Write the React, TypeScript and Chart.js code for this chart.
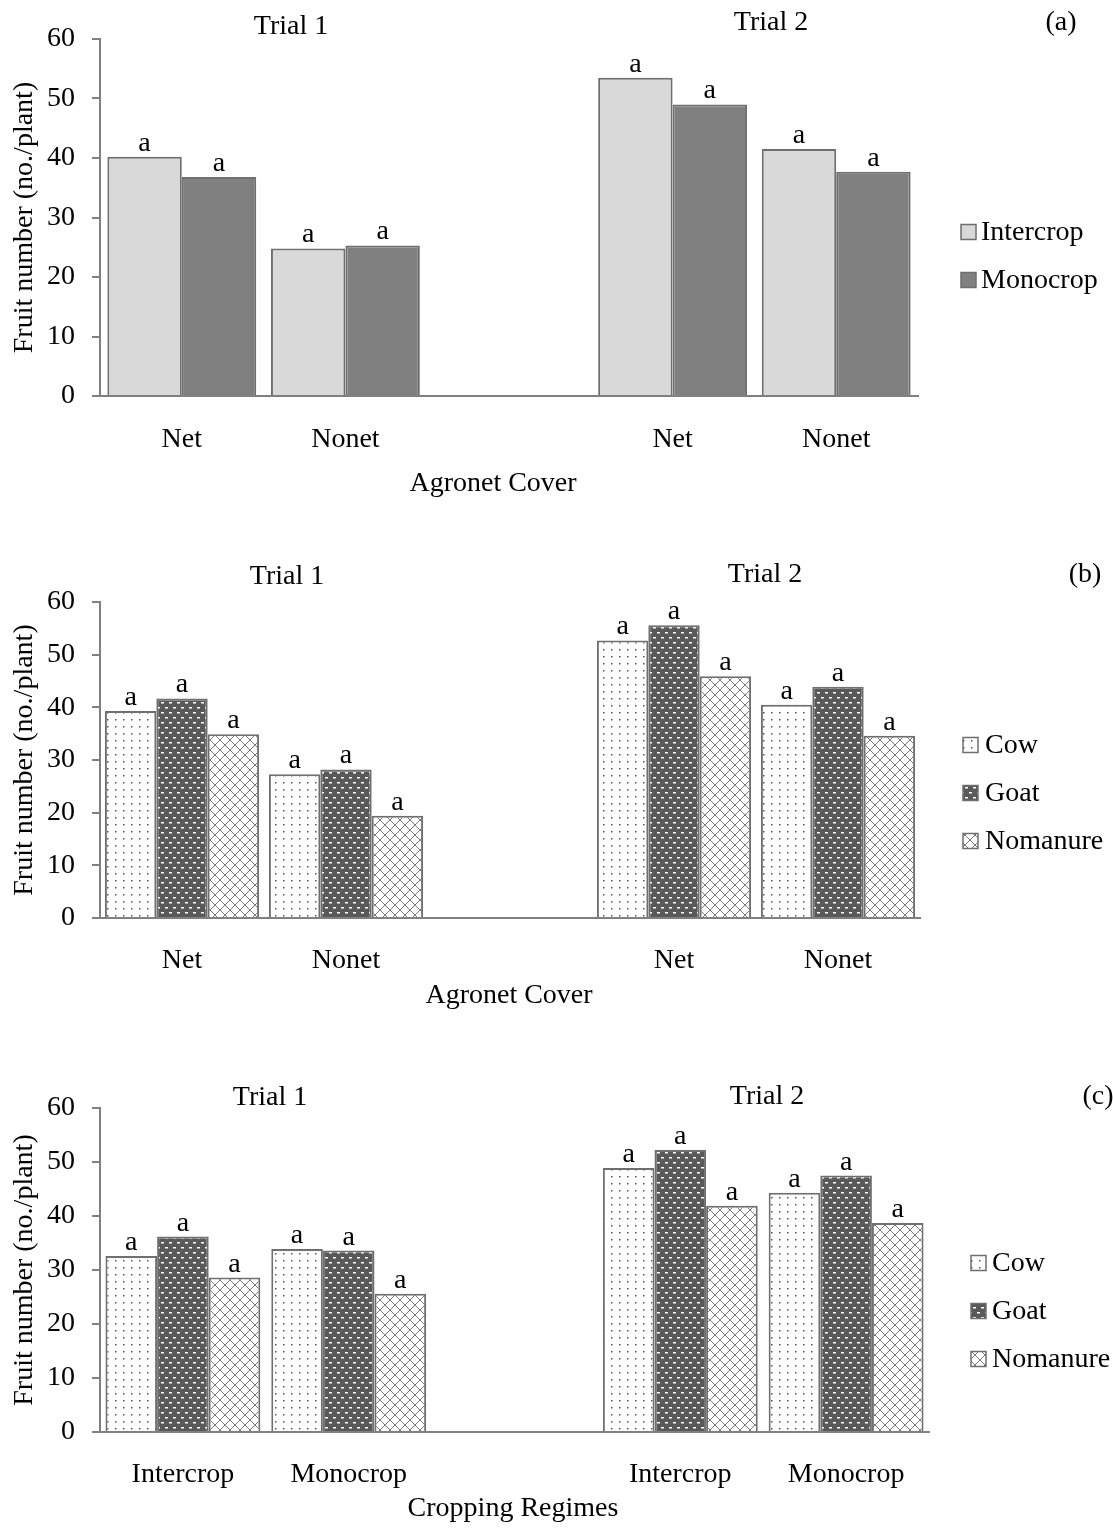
import React, { useEffect, useRef } from "react";
import { Chart, registerables } from "chart.js";

Chart.register(...registerables);

// ---------- data ----------
const agronetCategories = ["Net", "Nonet", "", "Net", "Nonet"];
const croppingCategories = ["Intercrop", "Monocrop", "", "Intercrop", "Monocrop"];

const intercropA = [40.2, 24.8, null, 53.5, 41.5];
const monocropA = [36.8, 25.3, null, 49.0, 37.7];

const cowB = [39.3, 27.3, null, 52.7, 40.5];
const goatB = [41.7, 28.2, null, 55.6, 43.9];
const nomanureB = [34.9, 19.4, null, 45.9, 34.6];

const cowC = [32.6, 33.9, null, 48.9, 44.3];
const goatC = [36.2, 33.6, null, 52.2, 47.5];
const nomanureC = [28.6, 25.6, null, 41.9, 38.7];

const yTickValues = [0, 10, 20, 30, 40, 50, 60];
const trialLabels = ["Trial 1", "Trial 2"];
const panelLabels = ["(a)", "(b)", "(c)"];
const xTitles = ["Agronet Cover", "Agronet Cover", "Cropping Regimes"];
const yTitle = "Fruit number (no./plant)";
const significance = "a";

const FONT = "'Liberation Serif', 'Times New Roman', serif";
const FS = 28;

type Series = { label: string; data: (number | null)[]; fill: string };

type PanelCfg = {
  offset: number;
  height: number;
  area: { top: number; bottom: number; right: number };
  catPct: number;
  labels: string[];
  series: Series[];
  trialPos: [number, number][];
  panelLabel: string;
  panelPos: [number, number];
  xTitle: string;
  xTitlePos: [number, number];
  legend: { x: number; ys: number[]; textX: number };
  tickPad: number;
};

const panels: PanelCfg[] = [
  {
    offset: 0,
    height: 520,
    area: { top: 39, bottom: 396, right: 918 },
    catPct: 0.91,
    labels: agronetCategories,
    series: [
      { label: "Intercrop", data: intercropA, fill: "light" },
      { label: "Monocrop", data: monocropA, fill: "dark" },
    ],
    trialPos: [[291, 27], [771, 23]],
    panelLabel: panelLabels[0],
    panelPos: [1061, 23],
    xTitle: xTitles[0],
    xTitlePos: [493, 484],
    legend: { x: 961, ys: [232, 280], textX: 981 },
    tickPad: 19,
  },
  {
    offset: 520,
    height: 520,
    area: { top: 82, bottom: 398, right: 920 },
    catPct: 0.94,
    labels: agronetCategories,
    series: [
      { label: "Cow", data: cowB, fill: "dots" },
      { label: "Goat", data: goatB, fill: "bricks" },
      { label: "Nomanure", data: nomanureB, fill: "cross" },
    ],
    trialPos: [[287, 57], [765, 55]],
    panelLabel: panelLabels[1],
    panelPos: [1085, 55],
    xTitle: xTitles[1],
    xTitlePos: [509, 476],
    legend: { x: 963, ys: [225, 273, 321], textX: 985 },
    tickPad: 18,
  },
  {
    offset: 1040,
    height: 488,
    area: { top: 68, bottom: 392, right: 929 },
    catPct: 0.934,
    labels: croppingCategories,
    series: [
      { label: "Cow", data: cowC, fill: "dots" },
      { label: "Goat", data: goatC, fill: "bricks" },
      { label: "Nomanure", data: nomanureC, fill: "cross" },
    ],
    trialPos: [[270, 58], [767, 57]],
    panelLabel: panelLabels[2],
    panelPos: [1098, 57],
    xTitle: xTitles[2],
    xTitlePos: [513, 469],
    legend: { x: 971, ys: [223, 271, 319], textX: 992 },
    tickPad: 18,
  },
];

function makeFill(kind: string): string | CanvasPattern {
  if (kind === "light") return "#d9d9d9";
  if (kind === "dark") return "#808080";
  const c = document.createElement("canvas");
  const ctx = c.getContext("2d")!;
  if (kind === "dots") {
    c.width = 8;
    c.height = 7;
    ctx.fillStyle = "#ffffff";
    ctx.fillRect(0, 0, 8, 7);
    ctx.fillStyle = "#555555";
    ctx.fillRect(3, 3, 1.5, 1.5);
  } else if (kind === "bricks") {
    c.width = 8;
    c.height = 10;
    ctx.fillStyle = "#595959";
    ctx.fillRect(0, 0, 8, 10);
    ctx.fillStyle = "#ffffff";
    ctx.fillRect(1, 2, 3, 1.5);
    ctx.fillRect(5, 7, 3, 1.5);
  } else {
    c.width = 10;
    c.height = 10;
    ctx.fillStyle = "#ffffff";
    ctx.fillRect(0, 0, 10, 10);
    ctx.strokeStyle = "#7a7a7a";
    ctx.lineWidth = 1;
    ctx.beginPath();
    ctx.moveTo(0, 0);
    ctx.lineTo(10, 10);
    ctx.moveTo(10, 0);
    ctx.lineTo(0, 10);
    ctx.stroke();
  }
  return ctx.createPattern(c, "repeat")!;
}

function Panel({ cfg }: { cfg: PanelCfg }) {
  const ref = useRef<HTMLCanvasElement>(null);
  useEffect(() => {
    const canvas = ref.current!;
    const fills = cfg.series.map((s) => makeFill(s.fill));
    const overlay = {
      id: "overlay",
      afterDatasetsDraw(chart: any) {
        const ctx = chart.ctx as CanvasRenderingContext2D;
        ctx.save();
        ctx.fillStyle = "#000";
        ctx.font = `${FS}px ${FONT}`;
        ctx.textAlign = "center";
        ctx.textBaseline = "alphabetic";
        chart.data.datasets.forEach((ds: any, i: number) => {
          const meta = chart.getDatasetMeta(i);
          meta.data.forEach((el: any, j: number) => {
            if (ds.data[j] == null) return;
            ctx.fillText(significance, el.x, el.y - 6);
          });
        });
        ctx.textBaseline = "middle";
        trialLabels.forEach((t, k) => {
          ctx.fillText(t, cfg.trialPos[k][0], cfg.trialPos[k][1]);
        });
        ctx.fillText(cfg.panelLabel, cfg.panelPos[0], cfg.panelPos[1]);
        ctx.fillText(cfg.xTitle, cfg.xTitlePos[0], cfg.xTitlePos[1]);
        // legend
        ctx.textAlign = "left";
        cfg.series.forEach((s, k) => {
          const cy = cfg.legend.ys[k];
          const bx = cfg.legend.x;
          ctx.fillStyle = fills[k] as any;
          ctx.fillRect(bx, cy - 7.5, 15, 15);
          ctx.strokeStyle = "#6f6f6f";
          ctx.lineWidth = 1.5;
          ctx.strokeRect(bx, cy - 7.5, 15, 15);
          ctx.fillStyle = "#000";
          ctx.fillText(s.label, cfg.legend.textX, cy + 1);
        });
        ctx.restore();
      },
    };
    const chart = new Chart(canvas, {
      type: "bar",
      data: {
        labels: cfg.labels,
        datasets: cfg.series.map((s, k) => ({
          label: s.label,
          data: s.data as any,
          backgroundColor: fills[k] as any,
          borderColor: "#6f6f6f",
          borderWidth: 2,
          categoryPercentage: cfg.catPct,
          barPercentage: 1,
        })),
      },
      options: {
        responsive: false,
        animation: false,
        devicePixelRatio: 1,
        layout: {
          padding: { top: cfg.area.top, right: 1113 - cfg.area.right, left: 0, bottom: 0 },
        },
        plugins: {
          legend: { display: false },
          tooltip: { enabled: false },
          title: { display: false },
        },
        scales: {
          x: {
            type: "category",
            offset: true,
            grid: { display: false },
            border: { display: true, color: "#808080", width: 2 },
            ticks: {
              color: "#000",
              font: { family: FONT, size: FS },
              padding: cfg.tickPad,
              maxRotation: 0,
              autoSkip: false,
            },
            afterFit: (scale: any) => {
              scale.height = cfg.height - cfg.area.bottom;
            },
          },
          y: {
            min: 0,
            max: 60,
            afterBuildTicks: (scale: any) => {
              scale.ticks = yTickValues.map((v) => ({ value: v }));
            },
            grid: {
              drawOnChartArea: false,
              drawTicks: true,
              tickLength: 8,
              color: "#808080",
              lineWidth: 2,
            },
            border: { display: true, color: "#808080", width: 2 },
            ticks: {
              color: "#000",
              font: { family: FONT, size: FS },
              padding: 17,
            },
            title: {
              display: true,
              text: yTitle,
              color: "#000",
              font: { family: FONT, size: FS, lineHeight: 1.2 },
              padding: { top: 8, bottom: 0 },
            },
            afterFit: (scale: any) => {
              scale.width = 100;
            },
          },
        },
      },
      plugins: [overlay],
    });
    return () => chart.destroy();
  }, [cfg]);
  return (
    <canvas
      ref={ref}
      width={1113}
      height={cfg.height}
      style={{ position: "absolute", left: 0, top: cfg.offset, width: 1113, height: cfg.height }}
    />
  );
}

export default function App() {
  useEffect(() => {
    document.body.style.margin = "0";
    document.body.style.background = "#ffffff";
  }, []);
  return (
    <div style={{ position: "relative", width: 1113, height: 1528, background: "#fff", overflow: "hidden" }}>
      {panels.map((p, i) => (
        <Panel key={i} cfg={p} />
      ))}
    </div>
  );
}
